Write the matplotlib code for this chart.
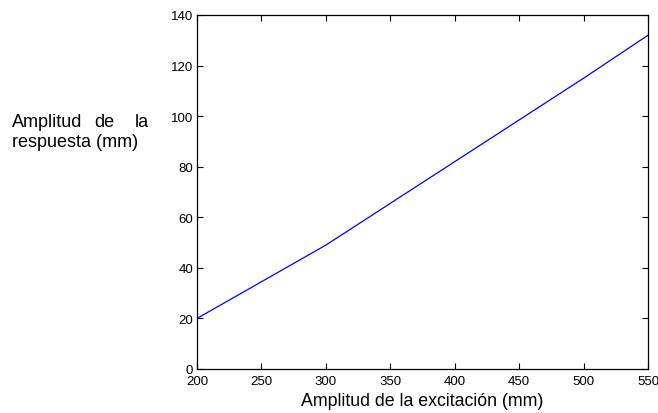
import matplotlib
matplotlib.use("Agg")
import matplotlib.pyplot as plt

plt.rcParams['font.family'] = ['Liberation Sans', 'DejaVu Sans']

excitacion = [200, 250, 300, 350, 400, 450, 500, 550]
respuesta = [20, 34.5, 49, 65.5, 82, 98.5, 115, 132]
xticks = [200, 250, 300, 350, 400, 450, 500, 550]
yticks = [0, 20, 40, 60, 80, 100, 120, 140]

W, H = 658, 414
fig = plt.figure(figsize=(W / 100, H / 100), dpi=100)
ax = fig.add_axes([197 / W, 1 - 370 / H, (648 - 197) / W, (370 - 16) / H])

ax.plot(excitacion, respuesta, color='#0000ff', linewidth=0.9)
ax.set_xlim(200, 550)
ax.set_ylim(0, 140)
ax.set_xticks(xticks)
ax.set_yticks(yticks)
ax.tick_params(direction='in', length=4, width=0.8, labelsize=9.5,
               top=True, right=True)
ax.tick_params(axis='x', pad=4.5)
ax.tick_params(axis='y', pad=2.8)
for s in ax.spines.values():
    s.set_linewidth(0.9)

ax.set_xlabel('Amplitud de la excitación (mm)', fontsize=12.8, labelpad=3.5)

# two-line justified y-axis caption
fs = 13
y1 = 1 - 127 / H
y2 = 1 - 147 / H
fig.text(12 / W, y1, 'Amplitud', fontsize=fs, ha='left', va='baseline')
fig.text(104 / W, y1, 'de', fontsize=fs, ha='center', va='baseline')
fig.text(149 / W, y1, 'la', fontsize=fs, ha='right', va='baseline')
fig.text(12 / W, y2, 'respuesta (mm)', fontsize=fs, ha='left', va='baseline')

fig.savefig('out.png', dpi=100)
